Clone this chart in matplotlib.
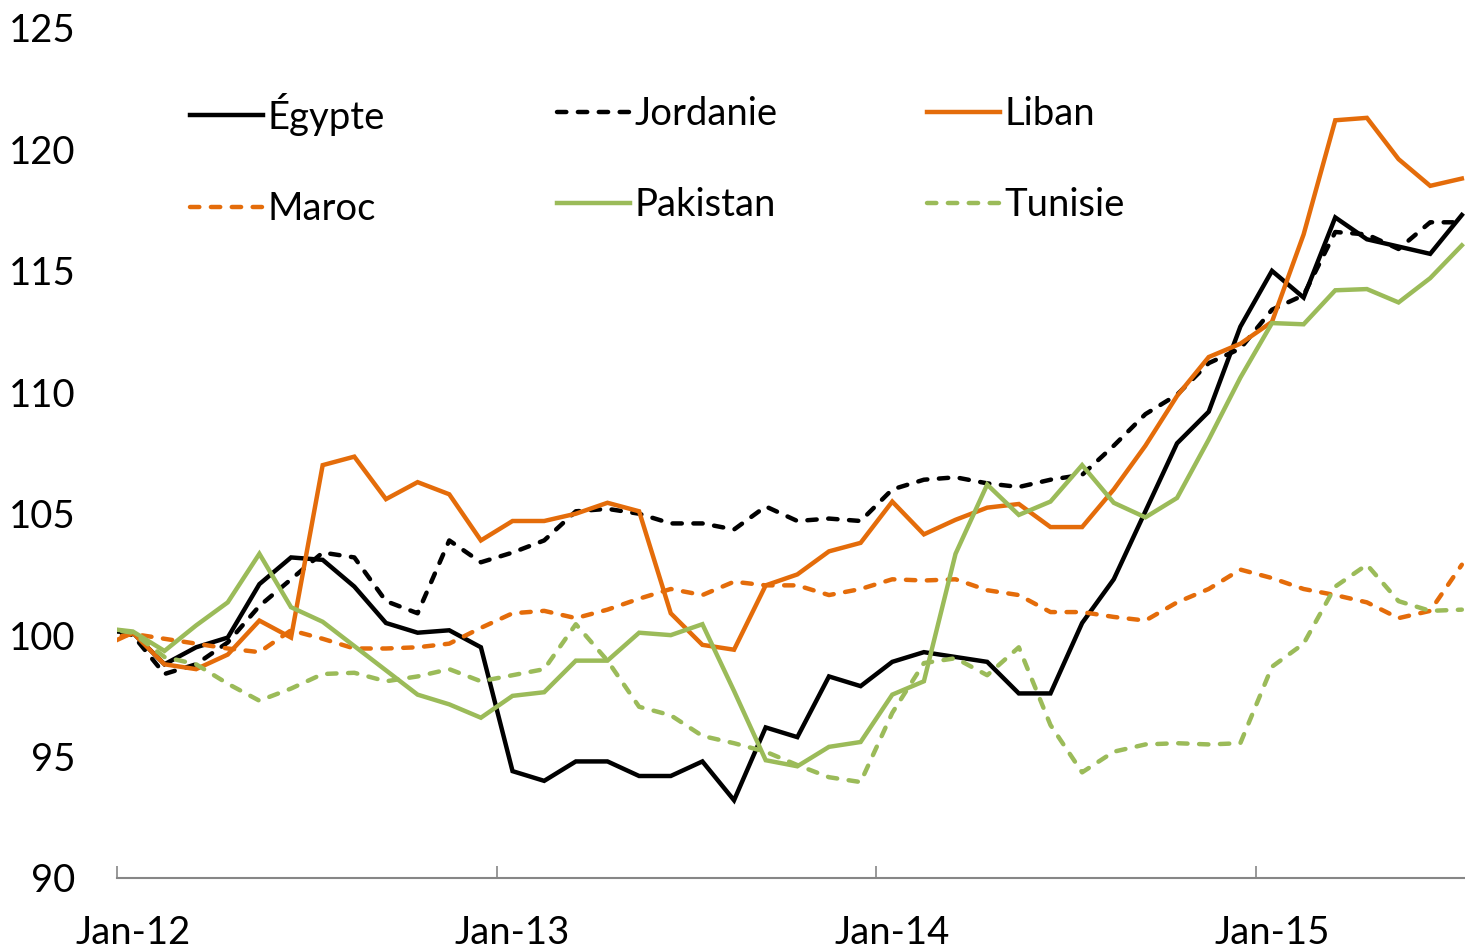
import numpy as np
import matplotlib.pyplot as plt

# DATA (monthly index, Dec-11 to Jul-15)
egypte = [100.2, 100.1, 98.8, 99.5, 99.9, 102.1, 103.2, 103.1, 102.0, 100.5, 100.1, 100.2, 99.5,
          94.4, 94.0, 94.8, 94.8, 94.2, 94.2, 94.8, 93.2, 96.2, 95.8, 98.3, 97.9,
          98.9, 99.3, 99.1, 98.9, 97.6, 97.6, 100.5, 102.3, 105.1, 107.9, 109.2, 112.7,
          115.0, 113.9, 117.2, 116.3, 116.0, 115.7, 117.3]
jordanie = [100.2, 100.0, 98.4, 98.8, 99.7, 101.2, 102.3, 103.4, 103.2, 101.4, 100.9, 103.9, 103.0,
            103.4, 103.9, 105.1, 105.2, 105.0, 104.6, 104.6, 104.35, 105.3, 104.7, 104.8, 104.7,
            106.0, 106.4, 106.5, 106.25, 106.1, 106.4, 106.6, 107.8, 109.1, 109.9, 111.2, 111.8,
            113.4, 114.0, 116.6, 116.5, 115.9, 117.0, 117.0]
liban = [99.5, 100.1, 98.8, 98.6, 99.2, 100.6, 99.9, 107.0, 107.35, 105.6, 106.3, 105.8, 103.9,
         104.7, 104.7, 105.0, 105.45, 105.1, 100.9, 99.6, 99.4, 102.05, 102.5, 103.45, 103.8,
         105.5, 104.15, 104.75, 105.25, 105.4, 104.45, 104.45, 106.0, 107.8, 109.85, 111.45, 112.0,
         112.9, 116.5, 121.2, 121.3, 119.6, 118.5, 118.8]
maroc = [99.8, 100.05, 99.85, 99.65, 99.45, 99.3, 100.2, 99.85, 99.45, 99.45, 99.5, 99.65, 100.3,
         100.9, 101.0, 100.7, 101.05, 101.5, 101.9, 101.65, 102.2, 102.05, 102.05, 101.65, 101.9,
         102.3, 102.25, 102.3, 101.85, 101.65, 100.95, 100.95, 100.75, 100.6, 101.35, 101.9, 102.7,
         102.35, 101.9, 101.65, 101.35, 100.7, 101.0, 102.9]
pakistan = [100.3, 100.15, 99.35, 100.4, 101.35, 103.35, 101.15, 100.55, 99.55, 98.55, 97.55, 97.15, 96.6,
            97.5, 97.65, 98.95, 98.95, 100.1, 100.0, 100.45, 97.7, 94.85, 94.6, 95.4, 95.6,
            97.55, 98.1, 103.35, 106.2, 104.95, 105.5, 107.0, 105.45, 104.85, 105.65, 108.05, 110.6,
            112.85, 112.8, 114.2, 114.25, 113.7, 114.7, 116.05]
tunisie = [100.3, 100.1, 99.1, 98.8, 98.0, 97.3, 97.8, 98.4, 98.45, 98.1, 98.3, 98.6, 98.1,
           98.35, 98.6, 100.45, 98.95, 97.05, 96.7, 95.85, 95.55, 95.2, 94.65, 94.15, 93.95,
           96.8, 98.85, 99.05, 98.35, 99.5, 96.3, 94.35, 95.2, 95.5, 95.55, 95.5, 95.55,
           98.7, 99.65, 102.0, 102.9, 101.4, 101.0, 101.05]

names = ["Égypte", "Jordanie", "Liban", "Maroc", "Pakistan", "Tunisie"]
year_labels = ["Jan-12", "Jan-13", "Jan-14", "Jan-15"]
y_ticks = [90, 95, 100, 105, 110, 115, 120, 125]

BLACK = "#000000"
ORANGE = "#E46C0A"
GREEN = "#9BBB59"
GREY = "#868686"
FS = 27.5

plt.rcParams['font.family'] = ['Lato', 'DejaVu Sans']

# month index: Dec-11 = -1, Jan-12 = 0, ... Jul-15 = 42
months = np.arange(-1, len(egypte) - 1)

fig = plt.figure(figsize=(14.65, 9.5), dpi=100)
ax = fig.add_axes([117 / 1465, 1 - 878 / 950, 1 - 117 / 1465, (878 - 28) / 950])

styles = [(egypte, BLACK, False), (jordanie, BLACK, True), (liban, ORANGE, False),
          (maroc, ORANGE, True), (pakistan, GREEN, False), (tunisie, GREEN, True)]
handles = []
for (vals, col, dashed), name in zip(styles, names):
    line, = ax.plot(months, vals, color=col, lw=3.2, label=name, solid_joinstyle='miter')
    if dashed:
        line.set_dashes((2.1, 2.6))
        line.set_dash_capstyle('round')
    handles.append(line)

ax.set_xlim(-0.5, 42.1)
ax.set_ylim(90, 125)

# axis and ticks
for s in ['top', 'right', 'left']:
    ax.spines[s].set_visible(False)
ax.spines['bottom'].set_color(GREY)
ax.spines['bottom'].set_linewidth(1.5)
ax.set_yticks(y_ticks)
ax.tick_params(axis='y', length=0, pad=30, labelsize=FS)
ax.set_xticks([-0.5, 11.5, 23.5, 35.5])
ax.set_xticklabels([])
ax.tick_params(axis='x', which='major', direction='in', length=9, width=1.2, color=GREY)
ax.set_xticks([0, 12, 24, 36], minor=True)
ax.set_xticklabels(year_labels, minor=True)
ax.tick_params(axis='x', which='minor', length=0, pad=27, labelsize=FS)

# legend: three columns, two rows each
col_x = [(190 - 117) / 1348, (557 - 117) / 1348, (927 - 117) / 1348]
legends = []
for c in range(3):
    leg = ax.legend([handles[c], handles[c + 3]], [names[c], names[c + 3]],
                    loc='center left', bbox_to_anchor=(col_x[c], 0.845),
                    frameon=False, fontsize=FS, borderpad=0, borderaxespad=0,
                    handlelength=1.9, handletextpad=0.12, labelspacing=1.45)
    legends.append(leg)
for leg in legends[:-1]:
    ax.add_artist(leg)

fig.savefig("out.png", dpi=100)
